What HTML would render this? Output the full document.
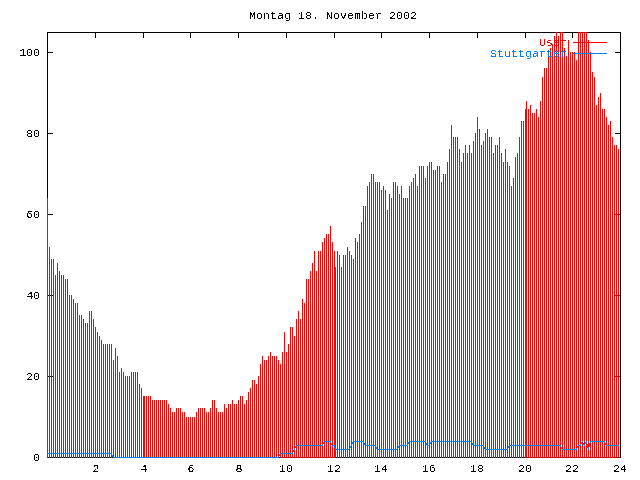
<!DOCTYPE html>
<html><head><meta charset="utf-8"><title>Montag 18. November 2002</title>
<style>
html,body{margin:0;padding:0;background:#fff}
#c{position:relative;width:640px;height:480px;overflow:hidden;background:#fff;font-family:"Liberation Mono",monospace;font-size:11.667px;line-height:14px;color:#000}
#c div{position:absolute;white-space:pre;height:14px;will-change:transform;filter:url(#px)}
.yl{left:0;width:40.2px;text-align:right}
.xl{width:60px;text-align:center;top:462px}
</style></head>
<body><div id="c">
<svg width="0" height="0" style="position:absolute"><filter id="px" x="0" y="0" width="100%" height="100%" color-interpolation-filters="sRGB"><feComponentTransfer><feFuncA type="discrete" tableValues="0 1"/></feComponentTransfer></filter></svg>
<svg width="640" height="480" viewBox="0 0 640 480" shape-rendering="crispEdges" style="position:absolute;left:0;top:0">
<path fill="#000" d="M47 32h574v1h-574zM47 457h574v1h-574zM47 32h1v426h-1zM620 32h1v426h-1zM47 32h1v6h-1zM47 452h1v6h-1zM95 32h1v6h-1zM95 452h1v6h-1zM143 32h1v6h-1zM143 452h1v6h-1zM190 32h1v6h-1zM190 452h1v6h-1zM238 32h1v6h-1zM238 452h1v6h-1zM286 32h1v6h-1zM286 452h1v6h-1zM334 32h1v6h-1zM334 452h1v6h-1zM381 32h1v6h-1zM381 452h1v6h-1zM429 32h1v6h-1zM429 452h1v6h-1zM477 32h1v6h-1zM477 452h1v6h-1zM525 32h1v6h-1zM525 452h1v6h-1zM572 32h1v6h-1zM572 452h1v6h-1zM620 32h1v6h-1zM620 452h1v6h-1zM47 457h6v1h-6zM615 457h6v1h-6zM47 376h6v1h-6zM615 376h6v1h-6zM47 295h6v1h-6zM615 295h6v1h-6zM47 214h6v1h-6zM615 214h6v1h-6zM47 133h6v1h-6zM615 133h6v1h-6zM47 52h6v1h-6zM615 52h6v1h-6z"/>
<path fill="#f00" d="M573 42h34v1h-34zM47 198h1v260h-1zM49 247h1v211h-1zM51 259h1v199h-1zM53 259h1v199h-1zM55 275h1v183h-1zM57 263h1v195h-1zM59 271h1v187h-1zM61 275h1v183h-1zM63 275h1v183h-1zM65 279h1v179h-1zM67 279h1v179h-1zM69 295h1v163h-1zM71 295h1v163h-1zM73 299h1v159h-1zM75 303h1v155h-1zM77 303h1v155h-1zM79 315h1v143h-1zM81 315h1v143h-1zM83 319h1v139h-1zM85 323h1v135h-1zM87 323h1v135h-1zM89 311h1v147h-1zM91 311h1v147h-1zM93 319h1v139h-1zM95 327h1v131h-1zM97 332h1v126h-1zM99 336h1v122h-1zM101 340h1v118h-1zM103 344h1v114h-1zM105 344h1v114h-1zM107 344h1v114h-1zM109 344h1v114h-1zM111 344h1v114h-1zM113 360h1v98h-1zM115 348h1v110h-1zM117 356h1v102h-1zM119 372h1v86h-1zM121 368h1v90h-1zM123 372h1v86h-1zM125 376h1v82h-1zM127 376h1v82h-1zM129 376h1v82h-1zM131 372h1v86h-1zM133 372h1v86h-1zM135 372h1v86h-1zM137 372h1v86h-1zM139 384h1v74h-1zM141 388h1v70h-1zM143 396h1v62h-1zM144 396h1v62h-1zM146 396h1v62h-1zM148 396h1v62h-1zM150 396h1v62h-1zM152 400h1v58h-1zM154 400h1v58h-1zM156 400h1v58h-1zM158 400h1v58h-1zM160 400h1v58h-1zM162 400h1v58h-1zM164 400h1v58h-1zM166 400h1v58h-1zM168 404h1v54h-1zM170 408h1v50h-1zM172 412h1v46h-1zM174 412h1v46h-1zM176 408h1v50h-1zM178 408h1v50h-1zM180 408h1v50h-1zM182 412h1v46h-1zM184 412h1v46h-1zM186 417h1v41h-1zM188 417h1v41h-1zM190 417h1v41h-1zM192 417h1v41h-1zM194 417h1v41h-1zM196 412h1v46h-1zM198 408h1v50h-1zM200 408h1v50h-1zM202 408h1v50h-1zM204 408h1v50h-1zM206 412h1v46h-1zM208 412h1v46h-1zM210 408h1v50h-1zM212 400h1v58h-1zM214 400h1v58h-1zM216 408h1v50h-1zM218 412h1v46h-1zM220 412h1v46h-1zM222 412h1v46h-1zM224 404h1v54h-1zM226 408h1v50h-1zM228 404h1v54h-1zM230 404h1v54h-1zM232 400h1v58h-1zM234 404h1v54h-1zM236 404h1v54h-1zM238 400h1v58h-1zM240 396h1v62h-1zM242 396h1v62h-1zM244 404h1v54h-1zM246 400h1v58h-1zM248 392h1v66h-1zM250 388h1v70h-1zM252 380h1v78h-1zM254 380h1v78h-1zM256 384h1v74h-1zM258 376h1v82h-1zM260 364h1v94h-1zM262 356h1v102h-1zM264 360h1v98h-1zM266 360h1v98h-1zM268 356h1v102h-1zM270 352h1v106h-1zM272 356h1v102h-1zM274 356h1v102h-1zM276 356h1v102h-1zM278 360h1v98h-1zM280 364h1v94h-1zM282 352h1v106h-1zM284 332h1v126h-1zM286 352h1v106h-1zM288 344h1v114h-1zM290 327h1v131h-1zM292 327h1v131h-1zM294 336h1v122h-1zM296 319h1v139h-1zM298 311h1v147h-1zM300 319h1v139h-1zM302 299h1v159h-1zM304 303h1v155h-1zM306 279h1v179h-1zM308 279h1v179h-1zM310 271h1v187h-1zM312 263h1v195h-1zM314 251h1v207h-1zM316 271h1v187h-1zM318 251h1v207h-1zM320 251h1v207h-1zM322 242h1v216h-1zM324 238h1v220h-1zM326 234h1v224h-1zM328 234h1v224h-1zM330 226h1v232h-1zM332 242h1v216h-1zM334 251h1v207h-1zM335 267h1v191h-1zM337 251h1v207h-1zM339 255h1v203h-1zM341 267h1v191h-1zM343 255h1v203h-1zM345 255h1v203h-1zM347 247h1v211h-1zM349 251h1v207h-1zM351 255h1v203h-1zM353 259h1v199h-1zM355 238h1v220h-1zM357 242h1v216h-1zM359 234h1v224h-1zM361 222h1v236h-1zM363 206h1v252h-1zM365 206h1v252h-1zM367 186h1v272h-1zM369 182h1v276h-1zM371 174h1v284h-1zM373 174h1v284h-1zM375 182h1v276h-1zM377 182h1v276h-1zM379 182h1v276h-1zM381 190h1v268h-1zM383 186h1v272h-1zM385 190h1v268h-1zM387 210h1v248h-1zM389 194h1v264h-1zM391 198h1v260h-1zM393 182h1v276h-1zM395 182h1v276h-1zM397 186h1v272h-1zM399 194h1v264h-1zM401 186h1v272h-1zM403 198h1v260h-1zM405 198h1v260h-1zM407 198h1v260h-1zM409 186h1v272h-1zM411 182h1v276h-1zM413 178h1v280h-1zM415 174h1v284h-1zM417 186h1v272h-1zM419 166h1v292h-1zM421 166h1v292h-1zM423 166h1v292h-1zM425 178h1v280h-1zM427 166h1v292h-1zM429 162h1v296h-1zM431 162h1v296h-1zM433 170h1v288h-1zM435 170h1v288h-1zM437 166h1v292h-1zM439 166h1v292h-1zM441 182h1v276h-1zM443 174h1v284h-1zM445 174h1v284h-1zM447 162h1v296h-1zM449 149h1v309h-1zM451 125h1v333h-1zM453 137h1v321h-1zM455 137h1v321h-1zM457 137h1v321h-1zM459 149h1v309h-1zM461 162h1v296h-1zM463 153h1v305h-1zM465 145h1v313h-1zM467 153h1v305h-1zM469 145h1v313h-1zM471 153h1v305h-1zM473 141h1v317h-1zM475 133h1v325h-1zM477 117h1v341h-1zM479 129h1v329h-1zM481 145h1v313h-1zM483 141h1v317h-1zM485 133h1v325h-1zM487 129h1v329h-1zM489 137h1v321h-1zM491 137h1v321h-1zM493 153h1v305h-1zM495 145h1v313h-1zM497 145h1v313h-1zM499 137h1v321h-1zM501 153h1v305h-1zM503 162h1v296h-1zM505 149h1v309h-1zM507 162h1v296h-1zM509 166h1v292h-1zM511 186h1v272h-1zM513 178h1v280h-1zM515 157h1v301h-1zM517 153h1v305h-1zM519 137h1v321h-1zM521 121h1v337h-1zM523 121h1v337h-1zM525 109h1v349h-1zM526 101h1v357h-1zM528 109h1v349h-1zM530 105h1v353h-1zM532 113h1v345h-1zM534 113h1v345h-1zM536 109h1v349h-1zM538 117h1v341h-1zM540 101h1v357h-1zM542 77h1v381h-1zM544 68h1v390h-1zM546 68h1v390h-1zM548 56h1v402h-1zM550 48h1v410h-1zM552 44h1v414h-1zM554 36h1v422h-1zM556 32h1v426h-1zM558 36h1v422h-1zM560 32h1v426h-1zM562 32h1v426h-1zM564 48h1v410h-1zM566 56h1v402h-1zM568 40h1v418h-1zM570 52h1v406h-1zM572 52h1v406h-1zM574 52h1v406h-1zM576 60h1v398h-1zM578 32h1v426h-1zM580 32h1v426h-1zM582 32h1v426h-1zM584 32h1v426h-1zM586 32h1v426h-1zM588 40h1v418h-1zM590 52h1v406h-1zM592 72h1v386h-1zM594 77h1v381h-1zM596 105h1v353h-1zM598 97h1v361h-1zM600 93h1v365h-1zM602 109h1v349h-1zM604 109h1v349h-1zM606 117h1v341h-1zM608 125h1v333h-1zM610 121h1v337h-1zM612 137h1v321h-1zM614 145h1v313h-1zM616 145h1v313h-1zM618 149h1v309h-1z"/>
<path fill="#0080ff" d="M573 53h34v1h-34zM324 441h7v1h-7zM353 441h11v1h-11zM409 441h17v1h-17zM431 441h41v1h-41zM582 441h1v1h-1zM586 441h1v1h-1zM590 441h15v1h-15zM323 442h1v1h-1zM330 442h1v1h-1zM352 442h1v1h-1zM363 442h1v1h-1zM408 442h1v1h-1zM425 442h1v1h-1zM430 442h1v1h-1zM471 442h1v1h-1zM581 442h2v1h-2zM585 442h2v1h-2zM590 442h1v1h-1zM604 442h1v1h-1zM323 443h1v1h-1zM331 443h1v1h-1zM352 443h1v1h-1zM364 443h1v1h-1zM408 443h1v1h-1zM426 443h1v1h-1zM430 443h1v1h-1zM472 443h1v1h-1zM581 443h1v1h-1zM583 443h1v1h-1zM585 443h2v1h-2zM589 443h1v1h-1zM605 443h1v1h-1zM322 444h1v1h-1zM331 444h1v1h-1zM351 444h1v1h-1zM364 444h1v1h-1zM407 444h1v1h-1zM426 444h1v1h-1zM429 444h1v1h-1zM472 444h1v1h-1zM580 444h1v1h-1zM583 444h2v1h-2zM587 444h1v1h-1zM589 444h1v1h-1zM605 444h1v1h-1zM296 445h27v1h-27zM332 445h3v1h-3zM351 445h1v1h-1zM365 445h11v1h-11zM399 445h9v1h-9zM427 445h3v1h-3zM473 445h11v1h-11zM509 445h52v1h-52zM578 445h3v1h-3zM584 445h1v1h-1zM587 445h1v1h-1zM589 445h1v1h-1zM606 445h13v1h-13zM295 446h1v1h-1zM334 446h1v1h-1zM350 446h1v1h-1zM375 446h1v1h-1zM398 446h1v1h-1zM483 446h1v1h-1zM508 446h1v1h-1zM560 446h1v1h-1zM577 446h1v1h-1zM587 446h1v1h-1zM589 446h1v1h-1zM295 447h1v1h-1zM334 447h1v1h-1zM350 447h1v1h-1zM376 447h1v1h-1zM398 447h1v1h-1zM484 447h1v1h-1zM508 447h1v1h-1zM561 447h1v1h-1zM577 447h1v1h-1zM587 447h2v1h-2zM294 448h1v1h-1zM335 448h1v1h-1zM349 448h1v1h-1zM376 448h1v1h-1zM397 448h1v1h-1zM484 448h1v1h-1zM507 448h1v1h-1zM561 448h1v1h-1zM576 448h1v1h-1zM588 448h1v1h-1zM294 449h1v1h-1zM335 449h15v1h-15zM377 449h21v1h-21zM485 449h23v1h-23zM562 449h15v1h-15zM588 449h1v1h-1zM293 450h1v1h-1zM293 451h1v1h-1zM292 452h1v1h-1zM47 453h65v1h-65zM280 453h13v1h-13zM111 454h1v1h-1zM279 454h1v1h-1zM112 455h1v1h-1zM279 455h1v1h-1zM112 456h1v1h-1zM278 456h1v1h-1zM113 457h166v1h-166z"/>
</svg>
<div style="left:132.7px;width:400px;text-align:center;top:9px">Montag 18. November 2002</div>
<div class="yl" style="top:451px">0</div>
<div class="yl" style="top:370px">20</div>
<div class="yl" style="top:289px">40</div>
<div class="yl" style="top:208px">60</div>
<div class="yl" style="top:127px">80</div>
<div class="yl" style="top:46px">100</div>
<div class="xl" style="left:65.7px">2</div>
<div class="xl" style="left:113.7px">4</div>
<div class="xl" style="left:160.7px">6</div>
<div class="xl" style="left:208.7px">8</div>
<div class="xl" style="left:255.8px">10</div>
<div class="xl" style="left:303.8px">12</div>
<div class="xl" style="left:350.8px">14</div>
<div class="xl" style="left:398.8px">16</div>
<div class="xl" style="left:446.8px">18</div>
<div class="xl" style="left:494.8px">20</div>
<div class="xl" style="left:541.8px">22</div>
<div class="xl" style="left:589.8px">24</div>
<div style="left:366.6px;width:200px;text-align:right;top:36px;color:#f00">User</div>
<div style="left:366.6px;width:200px;text-align:right;top:47px;color:#0080ff">Stuttgarter</div>
</div></body></html>
